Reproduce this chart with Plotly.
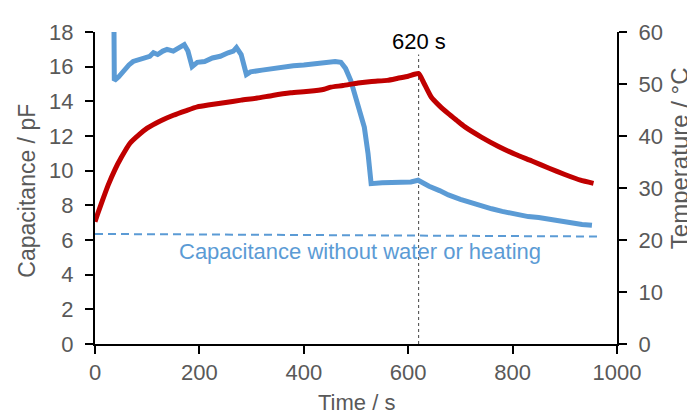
import plotly.graph_objects as go

# Capacitance (pF) vs time (s)
cap_time = [36, 37, 45, 55, 65, 73, 85, 95, 105, 112, 120, 130, 138, 150, 160, 171,
            178, 186, 196, 210, 225, 240, 255, 265, 271, 280, 290, 298, 320, 340, 360,
            380, 400, 420, 440, 460, 471, 480, 490, 503, 516, 523, 529, 550, 570, 590,
            605, 619, 640, 660, 677, 700, 720, 740, 760, 780, 804, 830, 850, 869, 890,
            910, 933, 952]
cap_val = [20.0, 15.2, 15.4, 15.8, 16.1, 16.3, 16.4, 16.5, 16.6, 16.8, 16.7, 16.9, 17.0,
           16.9, 17.1, 17.27, 16.9, 16.0, 16.25, 16.3, 16.5, 16.6, 16.8, 16.9, 17.1, 16.7,
           15.55, 15.7, 15.8, 15.9, 16.0, 16.05, 16.1, 16.15, 16.2, 16.3, 16.25, 15.9,
           15.2, 13.9, 12.5, 11.0, 9.25, 9.3, 9.3, 9.35, 9.35, 9.45, 9.1, 8.85, 8.6, 8.35,
           8.15, 8.0, 7.8, 7.65, 7.5, 7.35, 7.3, 7.2, 7.1, 7.0, 6.9, 6.85]

# Temperature (°C) vs time (s)
temp_time = [0, 5, 15, 25, 38, 50, 67, 85, 100, 125, 150, 175, 196, 220, 247, 280, 311,
             340, 375, 410, 439, 452, 475, 504, 530, 560, 580, 600, 620, 630, 644, 660,
             677, 693, 708, 740, 773, 805, 837, 870, 900, 930, 955]
temp_val = [23.5, 25.0, 27.8, 30.5, 33.5, 35.8, 38.6, 40.3, 41.5, 42.9, 44.0, 44.9, 45.6,
            46.0, 46.4, 46.9, 47.3, 47.8, 48.3, 48.6, 49.0, 49.4, 49.7, 50.2, 50.5, 50.7,
            51.1, 51.5, 52.0, 50.2, 47.5, 45.8, 44.3, 43.0, 41.8, 39.8, 38.0, 36.5, 35.2,
            33.8, 32.6, 31.5, 30.9]

# Baseline capacitance (no water, no heating)
base_time = [0, 971]
base_val = [6.35, 6.2]
base_label = "Capacitance without water or heating"

# Marker at heating stop
marker_time = 620
marker_label = "620 s"
marker_top = 16.7

x_ticks = [0, 200, 400, 600, 800, 1000]
cap_ticks = [0, 2, 4, 6, 8, 10, 12, 14, 16, 18]
temp_ticks = [0, 10, 20, 30, 40, 50, 60]

BLUE = "#5B9BD5"
RED = "#C00000"
GREY = "#595959"
FONT = "Liberation Sans, Arial, sans-serif"

fig = go.Figure()
fig.add_trace(go.Scatter(x=base_time, y=base_val, mode="lines",
                         line=dict(color=BLUE, width=2, dash="8px,5px"), showlegend=False))
fig.add_trace(go.Scatter(x=[marker_time, marker_time], y=[0, marker_top], mode="lines",
                         line=dict(color="#444444", width=1, dash="dot"), showlegend=False))
fig.add_trace(go.Scatter(x=cap_time, y=cap_val, mode="lines",
                         line=dict(color=BLUE, width=5), showlegend=False))
fig.add_trace(go.Scatter(x=temp_time, y=temp_val, mode="lines", yaxis="y2",
                         line=dict(color=RED, width=5, shape="spline", smoothing=0.5),
                         showlegend=False))

axis_common = dict(showline=True, linecolor="black", linewidth=2, ticks="outside",
                   ticklen=8, tickwidth=2, tickcolor="black", showgrid=False, zeroline=False,
                   tickfont=dict(size=22, color=GREY, family=FONT))

fig.update_layout(
    width=687, height=409,
    margin=dict(l=87, r=78, t=19, b=73),
    plot_bgcolor="white", paper_bgcolor="white",
    font=dict(family=FONT, color=GREY),
    xaxis=dict(range=[0, 1000], tickvals=x_ticks, ticklabelstandoff=0, **axis_common),
    yaxis=dict(range=[0, 18], tickvals=cap_ticks, ticklabelstandoff=7, **axis_common),
    yaxis2=dict(range=[0, 60], tickvals=temp_ticks, overlaying="y", side="right",
                ticklabelstandoff=7, **axis_common),
    annotations=[
        dict(x=508, y=5.35, xref="x", yref="y", text=base_label, showarrow=False,
             xanchor="center", yanchor="middle",
             font=dict(size=22, color=BLUE, family=FONT)),
        dict(x=marker_time, y=17.45, xref="x", yref="y", text=marker_label, showarrow=False,
             xanchor="center", yanchor="middle",
             font=dict(size=22, color="black", family=FONT)),
        dict(x=-0.13, y=0.492, xref="paper", yref="paper", text="Capacitance / pF",
             textangle=-90, showarrow=False, xanchor="center", yanchor="middle",
             font=dict(size=23, color=GREY, family=FONT)),
        dict(x=1.119, y=0.596, xref="paper", yref="paper", text="Temperature / °C",
             textangle=-90, showarrow=False, xanchor="center", yanchor="middle",
             font=dict(size=24, color=GREY, family=FONT)),
        dict(x=0.5, y=-0.186, xref="paper", yref="paper", text="Time / s",
             xanchor="center", yanchor="middle",
             showarrow=False, font=dict(size=22, color=GREY, family=FONT)),
    ],
)

fig.write_html("out.html")
